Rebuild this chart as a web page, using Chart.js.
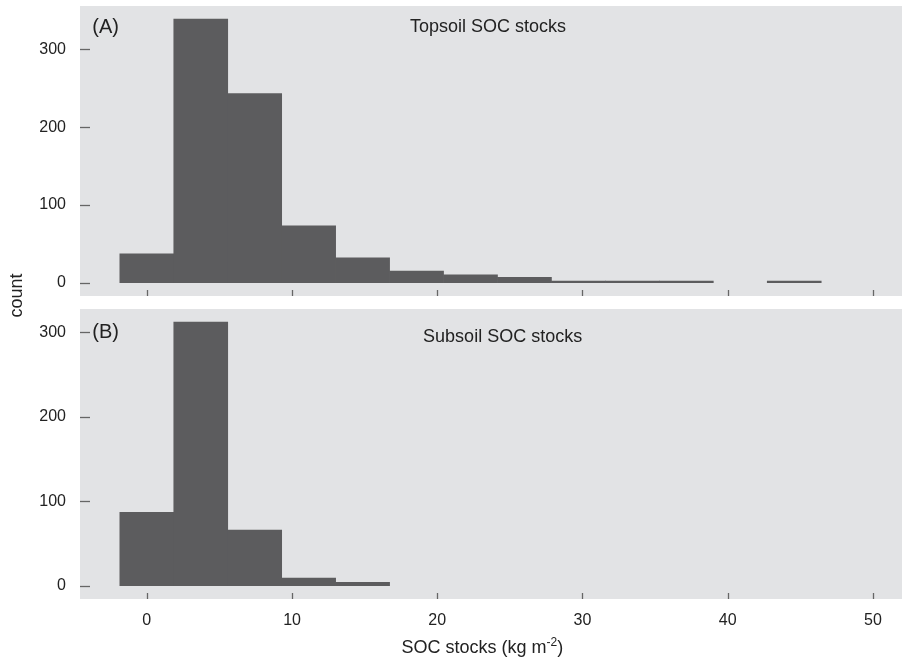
<!DOCTYPE html>
<html>
<head>
<meta charset="utf-8">
<script src="https://cdn.jsdelivr.net/npm/chart.js@4"></script>
<style>
  html, body { margin: 0; padding: 0; background: #fff; }
  #wrap { position: relative; width: 902px; height: 664px; }
  #wrap canvas { position: absolute; left: 0; top: 0; }
</style>
</head>
<body>
<div id="wrap">
  <canvas id="top-chart" width="902" height="664"></canvas>
  <canvas id="sub-chart" width="902" height="664"></canvas>
</div>
<script>
// ── Data ─────────────────────────────────────────────────────────
const binCenters = [0, 3.715, 7.43, 11.145, 14.86, 18.575, 22.29, 26.005, 29.72, 33.435, 37.15, 40.865, 44.58];
const topsoilCounts = [37, 339, 243, 73, 32, 15, 10, 7, 2, 2, 2, 0, 2];
const subsoilCounts = [87, 312, 66, 9, 4, 0, 0, 0, 0, 0, 0, 0, 0];
const xTicks = [0, 10, 20, 30, 40, 50];
const yTicks = [0, 100, 200, 300];
const panelTags = ['(A)', '(B)'];
const panelTitles = ['Topsoil SOC stocks', 'Subsoil SOC stocks'];

const FONT = "'Liberation Sans', Arial, sans-serif";
const BAR = '#5c5c5e';
const PANEL_BG = '#e2e3e5';
const TICK = '#666';
const TEXT = '#222';

// ── Plugins ──────────────────────────────────────────────────────
const panelBg = {
  id: 'panelBg',
  beforeDraw(chart) {
    const { ctx, chartArea: a } = chart;
    ctx.save();
    ctx.fillStyle = PANEL_BG;
    ctx.fillRect(a.left, a.top, a.right - a.left, a.bottom - a.top);
    ctx.restore();
  }
};

// ticks drawn inward from the panel edges, plus the panel texts
const panelDecor = {
  id: 'panelDecor',
  afterDatasetsDraw(chart, args, opts) {
    const { ctx, chartArea: a, scales: { x, y } } = chart;
    ctx.save();
    ctx.strokeStyle = TICK;
    ctx.lineWidth = 1.3;
    xTicks.forEach(v => {
      const px = Math.round(x.getPixelForValue(v)) + 0.5;
      ctx.beginPath(); ctx.moveTo(px, a.bottom - 6); ctx.lineTo(px, a.bottom); ctx.stroke();
    });
    yTicks.forEach(v => {
      const py = Math.round(y.getPixelForValue(v)) + 0.5;
      ctx.beginPath(); ctx.moveTo(a.left, py); ctx.lineTo(a.left + 10, py); ctx.stroke();
    });
    ctx.fillStyle = TEXT;
    ctx.textBaseline = 'middle';
    ctx.textAlign = 'left';
    ctx.font = `20px ${FONT}`;
    ctx.fillText(opts.tag, x.getPixelForValue(opts.tagAt[0]), y.getPixelForValue(opts.tagAt[1]));
    ctx.textAlign = 'center';
    ctx.font = `18px ${FONT}`;
    ctx.fillText(opts.title, x.getPixelForValue(opts.titleAt[0]), y.getPixelForValue(opts.titleAt[1]));
    ctx.restore();
  }
};

// shared axis titles, drawn once on the lower chart
const axisTitles = {
  id: 'axisTitles',
  afterDraw(chart) {
    const { ctx, scales: { x } } = chart;
    ctx.save();
    ctx.fillStyle = TEXT;
    ctx.textBaseline = 'alphabetic';
    ctx.textAlign = 'left';
    const main = 'SOC stocks (kg m', sup = '-2', end = ')';
    ctx.font = `18px ${FONT}`;
    const wMain = ctx.measureText(main).width, wEnd = ctx.measureText(end).width;
    ctx.font = `12px ${FONT}`;
    const wSup = ctx.measureText(sup).width;
    let tx = x.getPixelForValue(23.1) - (wMain + wSup + wEnd) / 2;
    const ty = 653;
    ctx.font = `18px ${FONT}`;
    ctx.fillText(main, tx, ty); tx += wMain;
    ctx.font = `12px ${FONT}`;
    ctx.fillText(sup, tx, ty - 7); tx += wSup;
    ctx.font = `18px ${FONT}`;
    ctx.fillText(end, tx, ty);

    ctx.translate(17.5, 295.5);
    ctx.rotate(-Math.PI / 2);
    ctx.textAlign = 'center';
    ctx.textBaseline = 'middle';
    ctx.fillText('count', 0, 0);
    ctx.restore();
  }
};

const noScalePadding = s => { s.paddingTop = 0; s.paddingBottom = 0; s.paddingLeft = 0; s.paddingRight = 0; };

// ── Chart builder ────────────────────────────────────────────────
// empty bins are left out so no hairline is drawn for them
const makeHist = (id, counts, cfg) => new Chart(document.getElementById(id), {
  type: 'bar',
  data: {
    datasets: [{
      data: binCenters.map((c, i) => ({ x: c, y: counts[i] })).filter(d => d.y > 0),
      backgroundColor: BAR,
      borderWidth: 0,
      barPercentage: 1,
      categoryPercentage: 1
    }]
  },
  options: {
    responsive: false,
    animation: false,
    events: [],
    layout: { padding: cfg.padding },
    plugins: {
      legend: { display: false },
      tooltip: { enabled: false },
      panelDecor: cfg.decor
    },
    scales: {
      x: {
        type: 'linear', offset: false, min: -4.6, max: 52.0,
        afterBuildTicks: s => { s.ticks = xTicks.map(v => ({ value: v })); },
        afterFit: s => { s.height = cfg.xHeight; noScalePadding(s); },
        grid: { display: false, drawTicks: false },
        border: { display: false },
        ticks: { display: cfg.showX, color: TEXT, padding: 12, maxRotation: 0, font: { family: FONT, size: 16 } }
      },
      y: {
        min: cfg.yMin, max: cfg.yMax,
        afterBuildTicks: s => { s.ticks = yTicks.map(v => ({ value: v })); },
        afterFit: s => { s.width = 80; noScalePadding(s); },
        grid: { display: false, drawTicks: false },
        border: { display: false },
        ticks: { color: TEXT, padding: 14, font: { family: FONT, size: 16 } }
      }
    }
  },
  plugins: cfg.extra ? [panelBg, panelDecor, axisTitles] : [panelBg, panelDecor]
});

makeHist('top-chart', topsoilCounts, {
  padding: { top: 6, bottom: 368, left: 0, right: 0 },
  xHeight: 0, showX: false, yMin: -17.1, yMax: 355.7,
  decor: { tag: panelTags[0], tagAt: [-3.75, 328], title: panelTitles[0], titleAt: [23.5, 329] }
});

makeHist('sub-chart', subsoilCounts, {
  padding: { top: 309, bottom: 0, left: 0, right: 0 },
  xHeight: 65, showX: true, yMin: -15.7, yMax: 327.6, extra: true,
  decor: { tag: panelTags[1], tagAt: [-3.75, 300], title: panelTitles[1], titleAt: [24.5, 295] }
});
</script>
</body>
</html>
